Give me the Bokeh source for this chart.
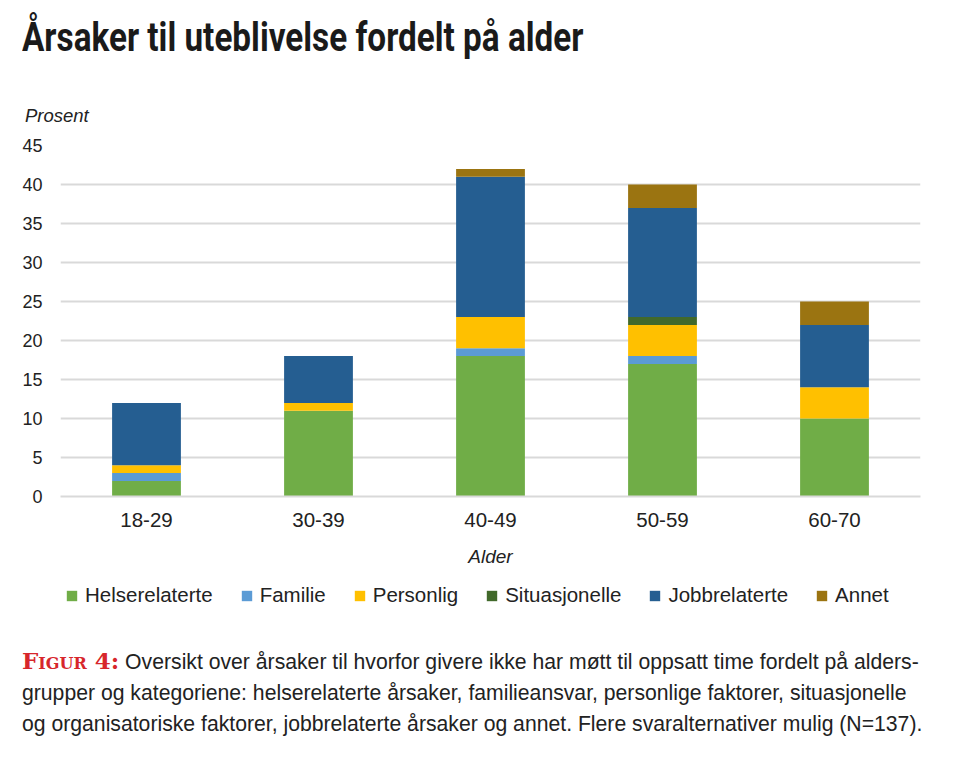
from bokeh.models import Div, Legend, LegendItem, ColumnDataSource
from bokeh.plotting import figure
from bokeh.layouts import column
from bokeh.embed import file_html
from bokeh.resources import INLINE

# data (percent)
ages = ["18-29", "30-39", "40-49", "50-59", "60-70"]
categories = ["Helserelaterte", "Familie", "Personlig", "Situasjonelle", "Jobbrelaterte", "Annet"]
helse = [2, 11, 18, 17, 10]
familie = [1, 0, 1, 1, 0]
personlig = [1, 1, 4, 4, 4]
situasjonelle = [0, 0, 0, 1, 0]
jobb = [8, 6, 18, 14, 8]
annet = [0, 0, 1, 3, 3]
y_ticks = [0, 5, 10, 15, 20, 25, 30, 35, 40, 45]

colors = ["#70ad47", "#5b9bd5", "#ffc000", "#41692b", "#255e91", "#9b7411"]
FONT = "Liberation Sans"
TXT = "#222222"

source = ColumnDataSource(data={
    "age": ages,
    "Helserelaterte": helse,
    "Familie": familie,
    "Personlig": personlig,
    "Situasjonelle": situasjonelle,
    "Jobbrelaterte": jobb,
    "Annet": annet,
})

title_div = Div(
    text=("<div style=\"padding-left:22px; font-family:Roboto, sans-serif; font-weight:bold; "
          "font-size:40px; line-height:40px; color:#1a1a1a; white-space:nowrap; "
          "transform:scaleX(0.832); transform-origin:22px 0;\">"
          "Årsaker til uteblivelse fordelt på alder</div>"),
    width=960, height=52, margin=(18, 0, 0, 0),
)

prosent_div = Div(
    text=("<div style=\"padding-left:25px; font-family:'Liberation Sans', sans-serif; font-style:italic; "
          "font-size:18.5px; line-height:22px; color:#222222;\">Prosent</div>"),
    width=300, height=22, margin=(35, 0, 0, 0),
)

p = figure(x_range=ages, y_range=(0, 45), width=960, height=448,
           output_backend="svg", toolbar_location=None, tools="",
           min_border_left=60, min_border_right=40, min_border_top=18, min_border_bottom=79)

renderers = p.vbar_stack(categories, x="age", width=0.4, source=source,
                         color=colors, line_color=None)

p.yaxis.ticker = y_ticks
p.yaxis.axis_line_color = None
p.yaxis.major_tick_line_color = None
p.yaxis.minor_tick_line_color = None
p.yaxis.major_label_standoff = 12
p.yaxis.major_label_text_font = FONT
p.yaxis.major_label_text_font_size = "18px"
p.yaxis.major_label_text_color = TXT

p.xaxis.axis_line_color = "#d9d9d9"
p.xaxis.axis_line_width = 2
p.xaxis.major_tick_line_color = None
p.xaxis.minor_tick_line_color = None
p.xaxis.major_label_standoff = 10
p.xaxis.major_label_text_font = FONT
p.xaxis.major_label_text_font_size = "20.5px"
p.xaxis.major_label_text_color = TXT
p.xaxis.axis_label = "Alder"
p.xaxis.axis_label_text_font = FONT
p.xaxis.axis_label_text_font_size = "19px"
p.xaxis.axis_label_text_font_style = "italic"
p.xaxis.axis_label_text_color = TXT
p.xaxis.axis_label_standoff = 16

p.xgrid.visible = False
p.ygrid.grid_line_color = "#d9d9d9"
p.ygrid.grid_line_width = 2
p.ygrid.level = "underlay"
p.outline_line_color = None
p.x_range.range_padding = 0

# legend lives in its own small strip below the chart (frame is aligned with the chart's)
lg = figure(x_range=(0, 1), y_range=(0, 1), width=960, height=40,
            output_backend="svg", toolbar_location=None, tools="",
            min_border_left=60, min_border_right=40, min_border_top=0, min_border_bottom=0)
lg.axis.visible = False
lg.grid.visible = False
lg.outline_line_color = None
items = []
for cat, col in zip(categories, colors):
    # zero-height bar, only used for the legend swatch
    r = lg.vbar(x=[0.5], top=[0], bottom=[0], width=0.01, color=col, line_color=None)
    items.append(LegendItem(label=cat, renderers=[r]))

legend = Legend(items=items, orientation="horizontal", location=(5, 8))
legend.label_text_font = FONT
legend.label_text_font_size = "20.5px"
legend.label_text_color = TXT
legend.glyph_width = 13
legend.glyph_height = 13
legend.label_standoff = 7
legend.spacing = 27
legend.border_line_color = None
legend.background_fill_alpha = 0
legend.margin = 0
legend.padding = 0
lg.add_layout(legend)

caption_div = Div(
    text=("<div style=\"padding-left:22px; font-family:'Liberation Sans', sans-serif; font-size:21.2px; "
          "line-height:31px; color:#222222; white-space:nowrap;\">"
          "<span style=\"color:#d7262b; font-family:'DejaVu Serif', serif; font-weight:bold; "
          "font-variant:small-caps; font-size:23px;\">Figur 4:</span> "
          "Oversikt over årsaker til hvorfor givere ikke har møtt til oppsatt time fordelt på alders-<br>"
          "grupper og kategoriene: helserelaterte årsaker, familieansvar, personlige faktorer, situasjonelle<br>"
          "og organisatoriske faktorer, jobbrelaterte årsaker og annet. Flere svaralternativer mulig (N=137).</div>"),
    width=960, margin=(30, 0, 0, 0),
)

layout = column(title_div, prosent_div, p, lg, caption_div, spacing=0)
open("out.html", "w").write(file_html(layout, INLINE))
